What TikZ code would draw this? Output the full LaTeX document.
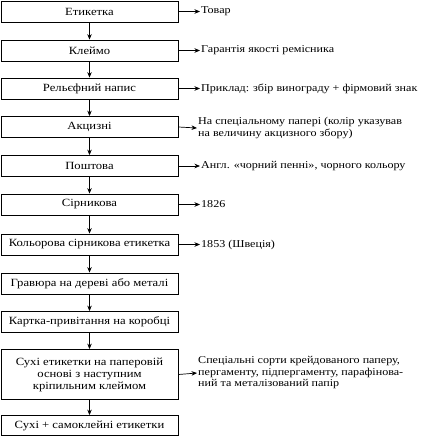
\documentclass[tikz,border=0pt]{standalone}
\usepackage{fontspec}
\setmainfont{Liberation Serif}[FakeStretch=1.15]
\usetikzlibrary{arrows.meta}
\begin{document}
\begin{tikzpicture}[x=1pt,y=1pt,
 box/.style={draw, line width=0.8pt, minimum width=177pt, minimum height=21pt, inner sep=1pt, font=\fontsize{11}{12}\selectfont, align=center},
 lbl/.style={anchor=west, inner sep=1pt, font=\fontsize{10.5}{11.5}\selectfont, align=left},
 arr/.style={-{Stealth[length=5.5pt,width=4.5pt]}, line width=0.7pt}]
\useasboundingbox (0,0) rectangle (427,-441);
\node[box] (b1) at (89.5,-11.5) {Етикетка};
\node[box] (b2) at (89.5,-50.5) {Клеймо};
\node[box] (b3) at (89.5,-88.5) {Рельєфний напис};
\node[box] (b4) at (89.5,-127) {Акцизні};
\node[box] (b5) at (89.5,-166) {Поштова};
\node[box] (b6) at (89.5,-204.5) {Сірникова};
\node[box] (b7) at (89.5,-244.5) {Кольорова сірникова етикетка};
\node[box] (b8) at (89.5,-283.5) {Гравюра на дереві або металі};
\node[box] (b9) at (89.5,-322) {Картка-привітання на коробці};
\node[box, minimum height=50pt] (b10) at (89.5,-374.5) {Сухі етикетки на паперовій\\основі з наступним\\кріпильним клеймом};
\node[box, minimum height=20pt] (b11) at (89.5,-425.5) {Сухі + самоклейні етикетки};
\foreach \a/\b in {b1/b2,b2/b3,b3/b4,b4/b5,b5/b6,b6/b7,b7/b8,b8/b9,b9/b10,b10/b11}
  \draw[arr] (\a.south) -- (\b.north);
\node[lbl] (l1) at (200,-11.5) {Товар};
\node[lbl] (l2) at (200,-50.5) {Гарантія якості ремісника};
\node[lbl] (l3) at (200,-88.5) {Приклад: збір винограду + фірмовий знак};
\node[lbl] (l4) at (197,-128) {На спеціальному папері (колір указував\\на величину акцизного збору)};
\node[lbl] (l5) at (200,-166) {Англ. «чорний пенні», чорного кольору};
\node[lbl] (l6) at (200,-204.5) {1826};
\node[lbl] (l7) at (200,-244.5) {1853 (Швеція)};
\node[lbl] (l10) at (197,-373) {Спеціальні сорти крейдованого паперу,\\пергаменту, підпергаменту, парафінова-\\ний та металізований папір};
\foreach \i in {1,2,3,4,5,6,7,10}
  \draw[arr] (b\i.east) -- (l\i.west);
\end{tikzpicture}
\end{document}
